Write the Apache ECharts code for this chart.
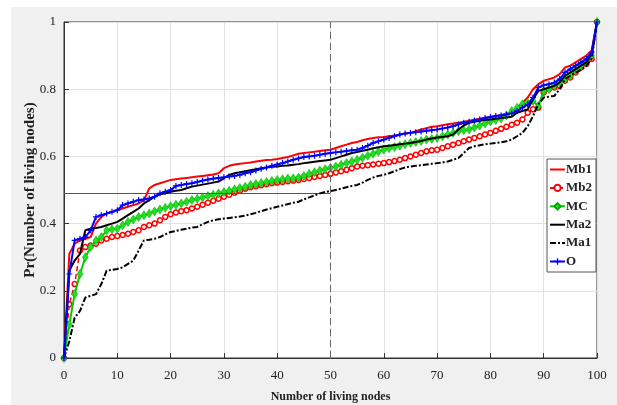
<!DOCTYPE html>
<html><head><meta charset="utf-8">
<script src="https://cdn.jsdelivr.net/npm/echarts@6/dist/echarts.min.js"></script>
<style>
html,body{margin:0;padding:0;background:#fff;width:617px;height:405px;overflow:hidden}
#c{position:absolute;left:11px;top:7px;width:606px;height:398px;background:#f0f0f0}
</style></head><body>
<div id="c"></div>
<script>
const xValues = Array.from({length:101},(_,i)=>i);
const xTicks = [0,10,20,30,40,50,60,70,80,90,100];
const yTicks = [0,0.2,0.4,0.6,0.8,1];
const seriesNames = ['Mb1','Mb2','MC','Ma2','Ma1','O'];
const Mb1 = [0,0.31,0.34,0.35,0.355,0.36,0.40,0.42,0.43,0.435,0.44,0.445,0.45,0.455,0.46,0.47,0.505,0.515,0.52,0.525,0.53,0.532,0.534,0.536,0.538,0.54,0.542,0.544,0.546,0.55,0.565,0.572,0.576,0.578,0.58,0.582,0.585,0.587,0.589,0.59,0.592,0.595,0.598,0.603,0.608,0.61,0.612,0.614,0.616,0.618,0.62,0.625,0.63,0.635,0.64,0.643,0.648,0.652,0.655,0.657,0.658,0.66,0.662,0.665,0.668,0.67,0.675,0.68,0.684,0.688,0.69,0.693,0.696,0.698,0.70,0.703,0.706,0.709,0.712,0.715,0.717,0.72,0.723,0.727,0.73,0.745,0.76,0.775,0.80,0.815,0.825,0.83,0.835,0.845,0.865,0.87,0.88,0.89,0.90,0.915,1.0];
const Mb2 = [0,0.16,0.22,0.32,0.33,0.335,0.34,0.35,0.355,0.36,0.363,0.366,0.37,0.375,0.38,0.39,0.395,0.40,0.41,0.42,0.428,0.433,0.437,0.44,0.445,0.45,0.456,0.462,0.468,0.474,0.48,0.486,0.492,0.498,0.504,0.508,0.511,0.514,0.517,0.52,0.522,0.524,0.526,0.528,0.53,0.533,0.536,0.539,0.542,0.545,0.548,0.552,0.556,0.56,0.565,0.57,0.572,0.574,0.576,0.578,0.58,0.583,0.586,0.59,0.595,0.60,0.605,0.61,0.615,0.618,0.62,0.625,0.63,0.635,0.64,0.645,0.65,0.655,0.66,0.665,0.67,0.676,0.682,0.688,0.694,0.70,0.71,0.73,0.74,0.745,0.79,0.80,0.805,0.81,0.825,0.835,0.85,0.865,0.875,0.89,1.0];
const MC = [0,0.10,0.19,0.25,0.30,0.33,0.35,0.36,0.38,0.383,0.385,0.395,0.405,0.412,0.42,0.425,0.43,0.436,0.442,0.447,0.452,0.456,0.46,0.465,0.47,0.474,0.478,0.482,0.486,0.49,0.494,0.498,0.502,0.506,0.51,0.515,0.518,0.521,0.524,0.527,0.53,0.532,0.534,0.535,0.537,0.542,0.548,0.553,0.558,0.562,0.566,0.57,0.575,0.58,0.585,0.59,0.596,0.602,0.608,0.614,0.62,0.624,0.628,0.632,0.636,0.64,0.643,0.646,0.65,0.652,0.655,0.66,0.665,0.67,0.675,0.678,0.68,0.686,0.692,0.698,0.704,0.708,0.713,0.722,0.735,0.745,0.755,0.76,0.765,0.75,0.795,0.80,0.81,0.82,0.83,0.84,0.855,0.87,0.88,0.90,1.0];
const Ma2 = [0,0.26,0.29,0.31,0.38,0.385,0.387,0.39,0.395,0.40,0.405,0.415,0.425,0.435,0.445,0.46,0.47,0.48,0.487,0.49,0.495,0.498,0.50,0.505,0.51,0.513,0.516,0.519,0.522,0.525,0.535,0.545,0.55,0.553,0.556,0.559,0.562,0.565,0.567,0.569,0.57,0.572,0.573,0.575,0.577,0.58,0.582,0.584,0.586,0.588,0.59,0.595,0.60,0.605,0.61,0.613,0.617,0.62,0.624,0.627,0.63,0.632,0.634,0.636,0.638,0.64,0.643,0.646,0.65,0.653,0.656,0.658,0.66,0.665,0.68,0.692,0.70,0.703,0.706,0.708,0.71,0.712,0.714,0.716,0.718,0.73,0.735,0.74,0.77,0.795,0.80,0.805,0.81,0.82,0.84,0.85,0.86,0.87,0.88,0.905,1.0];
const Ma1 = [0,0.05,0.12,0.14,0.18,0.185,0.19,0.22,0.26,0.262,0.265,0.27,0.28,0.29,0.32,0.35,0.352,0.355,0.36,0.368,0.375,0.378,0.382,0.385,0.388,0.39,0.398,0.405,0.41,0.413,0.415,0.417,0.419,0.421,0.424,0.428,0.432,0.437,0.442,0.446,0.45,0.454,0.458,0.462,0.465,0.472,0.478,0.484,0.49,0.494,0.497,0.50,0.504,0.508,0.512,0.515,0.522,0.53,0.537,0.542,0.545,0.55,0.556,0.562,0.567,0.57,0.572,0.574,0.576,0.578,0.58,0.582,0.585,0.59,0.595,0.61,0.625,0.63,0.633,0.636,0.638,0.64,0.642,0.645,0.65,0.66,0.67,0.69,0.72,0.755,0.775,0.778,0.78,0.80,0.83,0.84,0.85,0.857,0.87,0.89,1.0];
const O = [0,0.25,0.35,0.355,0.36,0.38,0.42,0.425,0.43,0.435,0.44,0.455,0.46,0.465,0.47,0.472,0.475,0.48,0.49,0.495,0.50,0.512,0.515,0.518,0.52,0.524,0.528,0.531,0.534,0.536,0.538,0.54,0.542,0.545,0.55,0.553,0.558,0.563,0.567,0.572,0.576,0.58,0.585,0.59,0.594,0.598,0.60,0.602,0.605,0.608,0.61,0.612,0.614,0.616,0.618,0.62,0.625,0.632,0.64,0.645,0.65,0.655,0.66,0.665,0.668,0.67,0.672,0.674,0.676,0.678,0.68,0.683,0.686,0.69,0.695,0.70,0.703,0.707,0.71,0.714,0.717,0.72,0.722,0.725,0.728,0.735,0.745,0.755,0.775,0.805,0.812,0.815,0.82,0.83,0.85,0.86,0.87,0.88,0.89,0.91,1.0];
const refVerticalX = 50;
const refHorizontal = {y:0.49, x0:0, x1:50};

const pair = arr => arr.map((v,i)=>[xValues[i],v]);
const font = 'Liberation Serif';
const plus = 'path://M4,0H6V4H10V6H6V10H4V6H0V4H4Z';

const chart = echarts.init(document.getElementById('c'), null, {renderer:'canvas'});
const axisCommon = {
  axisLine:{show:true,lineStyle:{color:'#333',width:1}},
  axisTick:{show:true,inside:true,length:5,lineStyle:{color:'#333'}},
  splitLine:{show:true,lineStyle:{color:'#e2e2e2',width:1}},
  axisLabel:{fontFamily:font,fontSize:13,color:'#222'}
};
const hideSym = {color:'rgba(0,0,0,0)',borderWidth:0,opacity:0};
chart.setOption({
  animation:false,
  backgroundColor:'#f0f0f0',
  grid:{left:53,top:15,right:20,bottom:47,containLabel:false,outerBoundsMode:'none',show:true,backgroundColor:'#fff',borderColor:'#333',borderWidth:1},
  xAxis:Object.assign({type:'value',min:0,max:100,interval:10,
    name:'Number of living nodes',nameLocation:'middle',nameGap:33,nameMoveOverlap:false,
    nameTextStyle:{fontFamily:font,fontSize:12,fontWeight:'bold',color:'#222'}},axisCommon,
    {axisLabel:{fontFamily:font,fontSize:13,color:'#222',margin:11}}),
  yAxis:Object.assign({type:'value',min:0,max:1,interval:0.2,
    name:'Pr(Number of living nodes)',nameLocation:'middle',nameGap:26,nameMoveOverlap:false,
    nameTextStyle:{fontFamily:font,fontSize:15,fontWeight:'bold',color:'#222'}},axisCommon),
  legend:{
    left:536,top:152,orient:'vertical',
    backgroundColor:'#fff',borderColor:'#555',borderWidth:1,borderRadius:0,
    padding:[4,4,4,2],itemGap:5.4,itemWidth:15,itemHeight:8,
    textStyle:{fontFamily:font,fontSize:13,fontWeight:'bold',color:'#222',padding:[0,0,0,-4]},
    data:[
      {name:'Mb1',itemStyle:hideSym},
      {name:'Mb2'},
      {name:'MC'},
      {name:'Ma2',itemStyle:hideSym},
      {name:'Ma1',itemStyle:hideSym},
      {name:'O'}
    ]
  },
  series:[
    {name:'Mb1',type:'line',data:pair(Mb1),symbol:'none',lineStyle:{color:'#ff0000',width:2},itemStyle:{color:'#ff0000'},z:3,
      markLine:{silent:true,symbol:'none',label:{show:false},
        data:[
          {xAxis:refVerticalX,lineStyle:{color:'#666',type:[7,4],width:1}},
          [{coord:[refHorizontal.x0,refHorizontal.y],lineStyle:{color:'#555',type:'solid',width:1}},{coord:[refHorizontal.x1,refHorizontal.y]}]
        ]}},
    {name:'Mb2',type:'line',data:pair(Mb2),symbol:'circle',symbolSize:5,showAllSymbol:true,
      lineStyle:{color:'#ff0000',width:1.5,type:[5,3]},itemStyle:{color:'#fff',borderColor:'#ff0000',borderWidth:1.5},z:2},
    {name:'MC',type:'line',data:pair(MC),symbol:'diamond',symbolSize:[6,9],showAllSymbol:true,
      lineStyle:{color:'#00cc00',width:2},itemStyle:{color:'#22dd22',borderColor:'#00aa00',borderWidth:0.5},z:4},
    {name:'Ma2',type:'line',data:pair(Ma2),symbol:'none',lineStyle:{color:'#000',width:2},itemStyle:{color:'#000'},z:5},
    {name:'Ma1',type:'line',data:pair(Ma1),symbol:'none',lineStyle:{color:'#000',width:2,type:[6,2,2,2]},itemStyle:{color:'#000'},z:5},
    {name:'O',type:'line',data:pair(O),symbol:plus,symbolSize:6,showAllSymbol:true,
      lineStyle:{color:'#0000ff',width:2},itemStyle:{color:'#0000ff'},z:6}
  ]
});
</script></body></html>
